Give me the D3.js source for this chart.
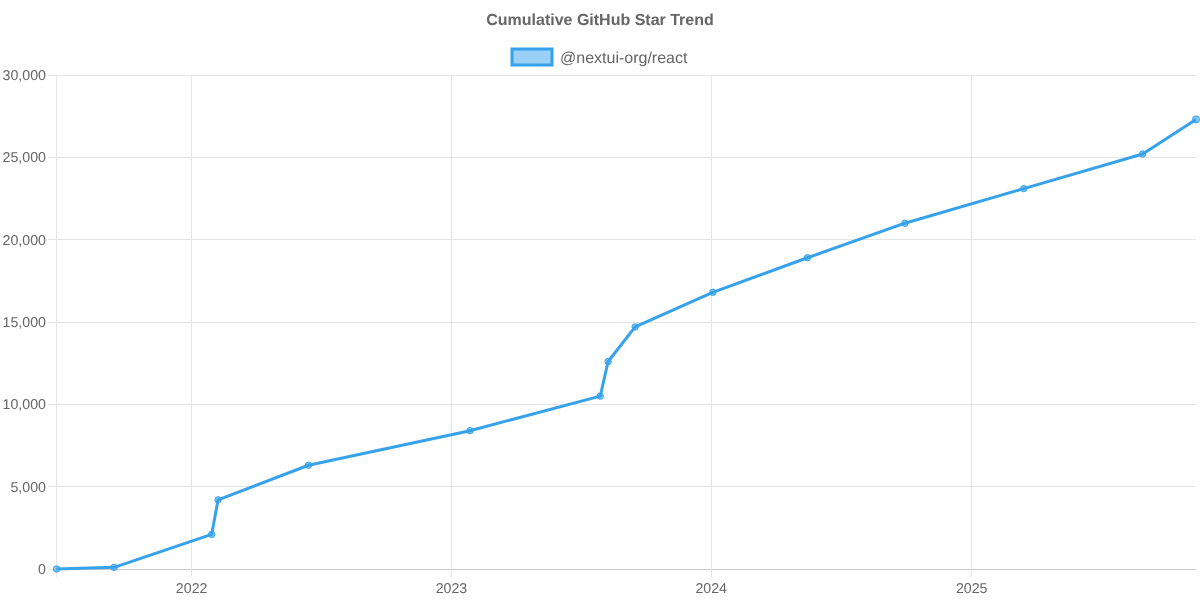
<!DOCTYPE html>
<html>
<head>
<meta charset="utf-8">
<script src="https://cdn.jsdelivr.net/npm/d3@7"></script>
<style>
html,body{margin:0;padding:0;background:#fff;}
svg{display:block;font-family:"Liberation Sans",Arial,sans-serif;text-rendering:geometricPrecision;will-change:transform;}
</style>
</head>
<body>
<svg id="c" width="1200" height="600"></svg>
<script>
const chartTitle = "Cumulative GitHub Star Trend";
const seriesName = "@nextui-org/react";
const dates = ["2021-06-25","2021-09-14","2022-01-29","2022-02-07","2022-06-14","2023-01-27","2023-07-29","2023-08-09","2023-09-16","2024-01-03","2024-05-15","2024-09-29","2025-03-15","2025-08-29","2025-11-12"];
const stars = [0,100,2100,4200,6300,8400,10500,12600,14700,16800,18900,21000,23100,25200,27300];
const yTicks = [0,5000,10000,15000,20000,25000,30000];
const xTicks = ["2022-01-01","2023-01-01","2024-01-01","2025-01-01"];

const parse = d3.utcParse("%Y-%m-%d");
const M = {left:56.5,right:1196,top:75,bottom:569};
const x = d3.scaleUtc().domain([parse(dates[0]),parse(dates[dates.length-1])]).range([M.left,M.right]);
const y = d3.scaleLinear().domain([0,30000]).range([M.bottom,M.top]);
const snap = v => Math.floor(v)+0.5;
const svg = d3.select("#c");
const blue = "#36a2eb", grid = "#e5e5e5", txt = "#666666", FONT = "Liberation Sans";

// Y axis labels
const ya = svg.append("g").attr("transform",`translate(${M.left},0)`)
  .call(d3.axisLeft(y).tickValues(yTicks).tickFormat(d3.format(",")).tickSize(0).tickPadding(10.5));
ya.select(".domain").remove();
ya.selectAll("text").attr("fill",txt).attr("font-size",14.2).attr("font-family",FONT);

// Horizontal grid with 8px tick marks on the left
svg.append("g").selectAll("line").data(yTicks).join("line")
  .attr("x1",48).attr("x2",M.right).attr("y1",d=>snap(y(d))).attr("y2",d=>snap(y(d)))
  .attr("stroke",grid).attr("stroke-width",1);
svg.append("line").attr("x1",M.left).attr("x2",M.right).attr("y1",snap(y(0))).attr("y2",snap(y(0)))
  .attr("stroke","#c9c9c9").attr("stroke-width",1);

// X axis labels
const xa = svg.append("g").attr("transform",`translate(-0.6,${M.bottom})`)
  .call(d3.axisBottom(x).tickValues(xTicks.map(parse)).tickFormat(d3.utcFormat("%Y")).tickSize(0).tickPadding(14));
xa.select(".domain").remove();
xa.selectAll("text").attr("fill",txt).attr("font-size",14.2).attr("font-family",FONT);

// Vertical grid with 8px tick marks below
svg.append("g").selectAll("line").data([parse(dates[0]),...xTicks.map(parse)]).join("line")
  .attr("x1",d=>snap(x(d))).attr("x2",d=>snap(x(d))).attr("y1",M.top).attr("y2",M.bottom+8)
  .attr("stroke",grid).attr("stroke-width",1);

// Series
const pts = dates.map((d,i)=>({d:parse(d),v:stars[i]}));
svg.append("path").datum(pts)
  .attr("fill","none").attr("stroke",blue).attr("stroke-width",3).attr("stroke-linejoin","round")
  .attr("d",d3.line().x(p=>x(p.d)).y(p=>y(p.v)));
svg.append("g").selectAll("circle").data(pts).join("circle")
  .attr("cx",p=>x(p.d)).attr("cy",p=>y(p.v)).attr("r",(p,i)=>i===pts.length-1?3.5:3.2)
  .attr("fill","rgba(54,162,235,0.6)").attr("stroke",blue).attr("stroke-width",1);

// Title and legend
svg.append("text").attr("x",600).attr("y",25).attr("text-anchor","middle")
  .attr("font-size",16).attr("font-weight","bold").attr("fill",txt).text(chartTitle);
svg.append("rect").attr("x",512).attr("y",49).attr("width",40).attr("height",16)
  .attr("fill","rgba(54,162,235,0.5)").attr("stroke",blue).attr("stroke-width",3);
svg.append("text").attr("x",560).attr("y",63).attr("font-size",16).attr("fill",txt).text(seriesName);
</script>
</body>
</html>
